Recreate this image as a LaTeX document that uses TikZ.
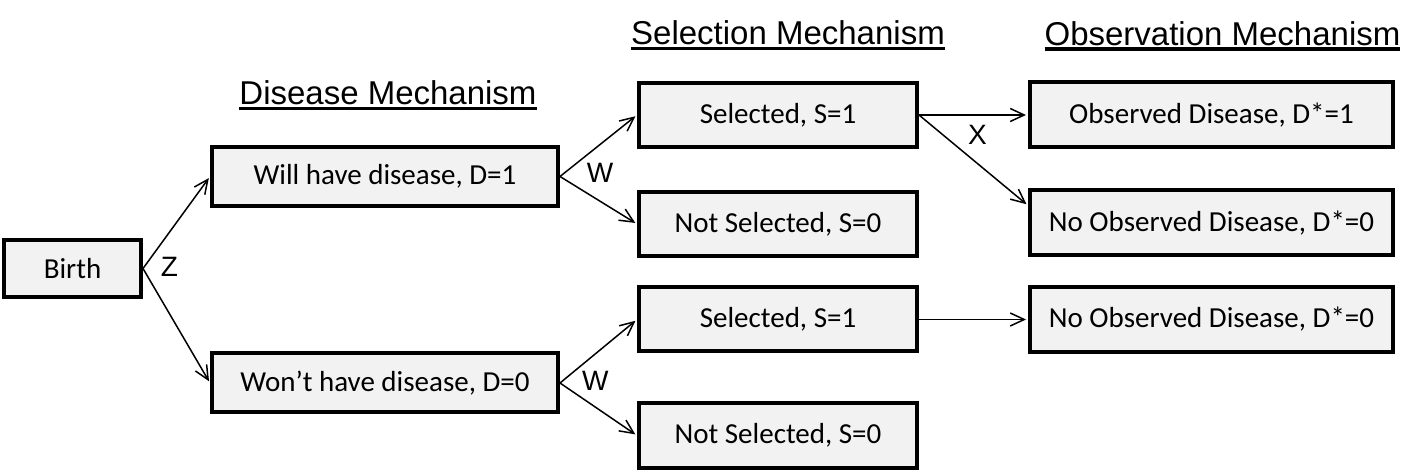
\documentclass[tikz,border=0pt]{standalone}
\usepackage{fontspec}
\setmainfont{Carlito}
\newfontfamily\arialfont{Liberation Sans}
\usepackage[usenames]{xcolor}
\usepackage{tikz}
\usetikzlibrary{positioning,arrows.meta}
\definecolor{boxgray}{HTML}{F2F2F2}
\newcommand{\ulmech}[1]{\setbox0\hbox{#1}\rlap{\rule[-2.8pt]{\wd0}{1.6pt}}\box0}

\begin{document}
\begin{tikzpicture}[>={Straight Barb[length=7pt,width=6.5pt]}]
	\tikzstyle{every node}=[align=center]
	\tikzstyle{statebox}=[draw, line width=2pt, fill=boxgray, inner sep=0pt, font=\fontsize{14.5}{17}\selectfont]
	\tikzstyle{mechhead}=[inner sep=0pt, font=\arialfont\fontsize{16.5}{20}\selectfont]
	\tikzstyle{varlbl}=[inner sep=0pt, font=\arialfont\fontsize{14}{16}\selectfont]
	\tikzstyle{level 1}=[level distance=156.25pt, sibling distance=103.25pt, nodes={statebox, minimum width=173pt, minimum height=29.5pt}]
	\tikzstyle{level 2}=[level distance=196.5pt, nodes={statebox, minimum width=139pt, minimum height=32pt}]
	\tikzstyle{level 3}=[level distance=216.75pt, sibling distance=54pt, nodes={statebox, minimum width=181.5pt, minimum height=32.5pt}]
	\useasboundingbox (0,0) rectangle (710pt,-235pt);
	\node[statebox, minimum width=68.5pt, minimum height=28.5pt] (birth) at (36.25pt,-134.25pt) {Birth}
		[->, line width=0.75pt, shorten >=1pt, grow'=right, parent anchor=east, child anchor=west]
		child[yshift=-5.625pt] {node (willd) {Will have disease, D=1}
			child[sibling distance=54.5pt, yshift=3.5pt] {node (sela) {Selected, S=1}
				child[missing] {}
				child {node (obsa) {Observed Disease, D*=1}}
				child[edge from parent path={(\tikzparentnode.east) -- ([yshift=8.75pt]\tikzchildnode.west)}] {node (noobsa) {No Observed Disease, D*=0}}
			}
			child[sibling distance=54.5pt, yshift=3.5pt] {node (nsela) {Not Selected, S=0}}
		}
		child[yshift=-5.625pt] {node (wontd) {Won’t have disease, D=0}
			child[sibling distance=58pt, yshift=2.75pt] {node (selb) {Selected, S=1}
				child {node (noobsb) {No Observed Disease, D*=0}}
			}
			child[sibling distance=58pt, yshift=2.75pt] {node (nselb) {Not Selected, S=0}}
		};
	\node[varlbl, right=8.7pt of birth.east, yshift=0.75pt] (zlbl) {Z};
	\node[varlbl, right=13.2pt of willd.east, yshift=1.75pt] (wlbla) {W};
	\node[varlbl, right=10.9pt of wontd.east, yshift=1.25pt] (wlblb) {W};
	\node[varlbl, right=24.3pt of sela.east, yshift=-10pt] (xlbl) {X};
	\node[mechhead, above=17.2pt of willd.north, xshift=1.5pt] (dishead) {\ulmech{Disease Mechanism}};
	\node[mechhead, above=15.2pt of sela.north, xshift=5pt] (selhead) {\ulmech{Selection Mechanism}};
	\node[mechhead, above=14.7pt of obsa.north, xshift=5.5pt] (obshead) {\ulmech{Observation Mechanism}};
\end{tikzpicture}
\end{document}
